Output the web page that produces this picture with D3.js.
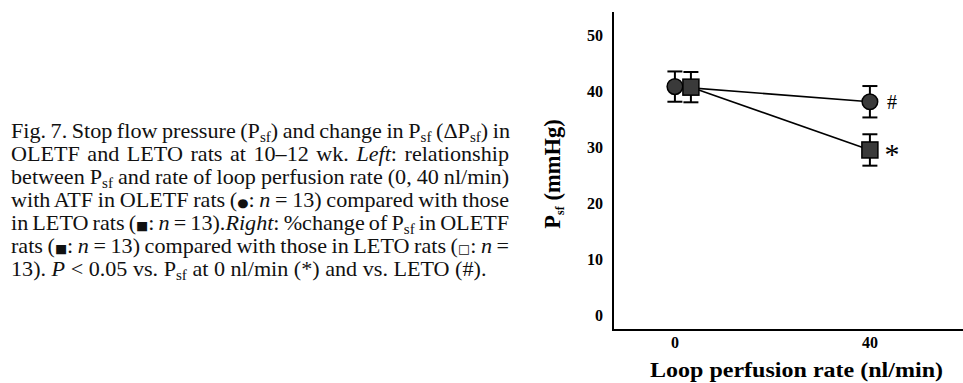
<!DOCTYPE html>
<html>
<head>
<meta charset="utf-8">
<script src="https://cdn.jsdelivr.net/npm/d3@7"></script>
<style>
  html, body { margin: 0; padding: 0; background: #fff; }
  svg { display: block; }
</style>
</head>
<body>
<svg id="canvas" width="963" height="383"></svg>
<script>
// data
var rates = [0, 40];
var oletfMean = [40.9, 38.2];
var oletfSem = [2.7, 2.8];
var letoMean = [40.8, 29.6];
var letoSem = [2.7, 2.8];
var oletfMarks = ["", "#"];
var letoMarks = ["", "*"];
var yTicks = [0, 10, 20, 30, 40, 50];
var xTicks = [0, 40];

// caption lines, each a list of [text, style] runs
var captionLines = [
    [["Fig. 7.  Stop flow pressure (P"], ["sf", "sub"], [") and change in P"], ["sf", "sub"], [" (\u0394P"], ["sf", "sub"], [") in"]],
    [["OLETF and LETO rats at 10\u201312 wk. "], ["Left", "i"], [": relationship"]],
    [["between P"], ["sf", "sub"], [" and rate of loop perfusion rate (0, 40 nl/min)"]],
    [["with ATF in OLETF rats ("], ["\u25cf", "sym"], [": "], ["n", "i"], [" = 13) compared with those"]],
    [["in LETO rats ("], ["\u25a0", "sym"], [": "], ["n", "i"], [" = 13)."], ["Right", "i"], [": %change of P"], ["sf", "sub"], [" in OLETF"]],
    [["rats ("], ["\u25a0", "sym"], [": "], ["n", "i"], [" = 13) compared with those in LETO rats ("], ["\u25a1", "sym"], [": "], ["n", "i"], [" ="]],
    [["13). "], ["P", "i"], [" < 0.05 vs. P"], ["sf", "sub"], [" at 0 nl/min (*) and vs. LETO (#)."]]
];

(function() {
    "use strict";
    var svg = d3.select("#canvas");
    var SERIF = "'Liberation Serif', 'Times New Roman', serif";

    // ---- caption (the scan is a little wide, so stretch x) ----
    var CAP_LEFT = 11, CAP_RIGHT = 509, CAP_TOP = 138, CAP_STEP = 23, STRETCH = 1.08;
    var cap = svg.append("g").attr("font-family", SERIF).attr("font-size", 20.5).attr("fill", "#111");
    captionLines.forEach(function(runs, li) {
        var t = cap.append("text")
            .attr("transform", "translate(" + CAP_LEFT + "," + (CAP_TOP + li * CAP_STEP) + ") scale(" + STRETCH + ",1)");
        var spaces = 0;
        runs.forEach(function(r, i) {
            var ts = t.append("tspan").text(r[0]);
            if (r[1] === "i") ts.attr("font-style", "italic");
            if (r[1] === "sym") ts.attr("font-size", 12).attr("font-family", "'DejaVu Sans', sans-serif");
            if (r[1] === "sub") ts.attr("font-size", 14).attr("dy", 3.5);
            else if (i > 0 && runs[i - 1][1] === "sub") ts.attr("dy", -3.5);
            spaces += (r[0].match(/ /g) || []).length;
        });
        if (li < captionLines.length - 1 && spaces > 0) {
            var w = t.node().getComputedTextLength();
            t.attr("word-spacing", ((CAP_RIGHT - CAP_LEFT) / STRETCH - w) / spaces);
        }
    });

    // ---- chart ----
    var x = d3.scaleLinear().domain([-12.7, 59.1]).range([613, 963]);
    var y = d3.scaleLinear().domain([-2.5, 54.2]).range([330, 12]);
    var LETO_DODGE = 16; // squares shifted right where they sit on the circles

    var chart = svg.append("g").attr("font-family", SERIF).attr("font-weight", "bold");

    chart.append("line")
        .attr("x1", x.range()[0]).attr("x2", x.range()[0])
        .attr("y1", y.range()[1]).attr("y2", y.range()[0])
        .attr("stroke", "#000").attr("stroke-width", 2);
    chart.append("line")
        .attr("x1", x.range()[0] - 1).attr("x2", x.range()[1])
        .attr("y1", y.range()[0]).attr("y2", y.range()[0])
        .attr("stroke", "#000").attr("stroke-width", 2);

    chart.selectAll("text.ytick").data(yTicks).enter().append("text")
        .attr("class", "ytick")
        .attr("x", 603).attr("y", function(d) { return y(d); })
        .attr("dy", "0.33em").attr("text-anchor", "end")
        .attr("font-size", 16).text(function(d) { return d; });

    chart.selectAll("text.xtick").data(xTicks).enter().append("text")
        .attr("class", "xtick")
        .attr("x", function(d) { return x(d); }).attr("y", 348)
        .attr("text-anchor", "middle")
        .attr("font-size", 16).text(function(d) { return d; });

    chart.append("text")
        .attr("x", 650).attr("y", 377)
        .attr("textLength", 293).attr("lengthAdjust", "spacingAndGlyphs")
        .attr("font-size", 22).text("Loop perfusion rate (nl/min)");

    var yl = chart.append("text")
        .attr("transform", "translate(560,174) rotate(-90)")
        .attr("text-anchor", "middle").attr("font-size", 22.5);
    yl.append("tspan").text("P");
    yl.append("tspan").attr("font-size", 12).attr("dy", 4).text("sf");
    yl.append("tspan").attr("dy", -4).text(" (mmHg)");

    function series(means, sems, marks) {
        return rates.map(function(r, i) {
            return { rate: r, mean: means[i], sem: sems[i], mark: marks[i] };
        });
    }
    var oletf = series(oletfMean, oletfSem, oletfMarks);
    var leto = series(letoMean, letoSem, letoMarks);

    function px(d, dodge) { return x(d.rate) + (d.rate === 0 ? dodge : 0); }

    var line = function(dodge) {
        return d3.line().x(function(d) { return px(d, dodge); }).y(function(d) { return y(d.mean); });
    };
    chart.append("path").datum(oletf).attr("d", line(0))
        .attr("fill", "none").attr("stroke", "#000").attr("stroke-width", 1.6);
    chart.append("path").datum(leto).attr("d", line(LETO_DODGE))
        .attr("fill", "none").attr("stroke", "#000").attr("stroke-width", 1.6);

    function errorBars(data, dodge) {
        var g = chart.append("g").attr("stroke", "#000").attr("stroke-width", 2);
        data.forEach(function(d) {
            var cx = px(d, dodge);
            g.append("line").attr("x1", cx).attr("x2", cx)
                .attr("y1", y(d.mean + d.sem)).attr("y2", y(d.mean - d.sem));
            [d.mean + d.sem, d.mean - d.sem].forEach(function(v) {
                g.append("line").attr("x1", cx - 7.5).attr("x2", cx + 7.5)
                    .attr("y1", y(v)).attr("y2", y(v));
            });
        });
    }
    errorBars(oletf, 0);
    errorBars(leto, LETO_DODGE);

    chart.selectAll("circle.oletf").data(oletf).enter().append("circle")
        .attr("class", "oletf")
        .attr("cx", function(d) { return px(d, 0); }).attr("cy", function(d) { return y(d.mean); })
        .attr("r", 7.8).attr("fill", "#3a3a3a").attr("stroke", "#000").attr("stroke-width", 1.5);

    chart.selectAll("rect.leto").data(leto).enter().append("rect")
        .attr("class", "leto")
        .attr("x", function(d) { return px(d, LETO_DODGE) - 8; })
        .attr("y", function(d) { return y(d.mean) - 8; })
        .attr("width", 16).attr("height", 16)
        .attr("fill", "#3a3a3a").attr("stroke", "#000").attr("stroke-width", 1.5);

    chart.selectAll("text.mark").data(oletf.concat(leto).filter(function(d) { return d.mark; }))
        .enter().append("text")
        .attr("class", "mark")
        .attr("x", function(d) { return x(d.rate) + 22; })
        .attr("y", function(d) { return y(d.mean) + (d.mark === "*" ? 14 : 7); })
        .attr("text-anchor", "middle")
        .attr("font-weight", "normal")
        .attr("font-size", function(d) { return d.mark === "*" ? 30 : 20; })
        .text(function(d) { return d.mark; });
})();
</script>
</body>
</html>
